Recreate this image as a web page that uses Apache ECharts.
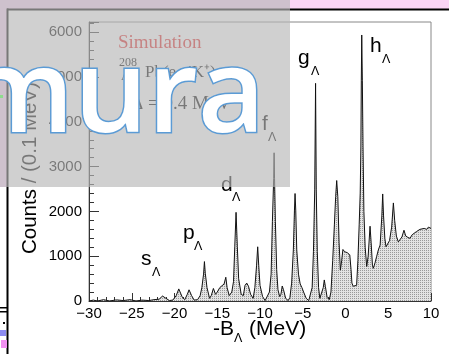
<!DOCTYPE html>
<html><head><meta charset="utf-8">
<script src="https://cdn.jsdelivr.net/npm/echarts@6/dist/echarts.min.js"></script>
<style>html,body{margin:0;padding:0;background:#fff}#c{width:449px;height:354px}</style>
</head><body><div id="c"></div>
<script>
// -B_Lambda (MeV) sample positions and counts per 0.1 MeV
var energies = [-30,-29.5,-29,-28.3,-27.6,-26.8,-26,-25.2,-24.5,-23.8,-23,-22.4,-21.8,-21.4,-21,-20.6,-20.2,-19.8,-19.5,-19.3,-19.1,-18.8,-18.5,-18.3,-18,-17.7,-17.3,-17,-16.8,-16.6,-16.5,-16.4,-16.2,-15.9,-15.7,-15.45,-15.2,-15,-14.7,-14.5,-14.2,-14,-13.85,-13.6,-13.3,-13.1,-12.95,-12.8,-12.65,-12.5,-12.2,-11.95,-11.75,-11.55,-11.35,-11.1,-10.8,-10.6,-10.4,-10.27,-10.15,-10,-9.7,-9.4,-9.2,-8.9,-8.7,-8.55,-8.4,-8.35,-8.3,-8.2,-8.05,-7.9,-7.7,-7.55,-7.4,-7.25,-7,-6.7,-6.5,-6.3,-6.1,-5.97,-5.9,-5.82,-5.7,-5.5,-5.3,-5.1,-4.9,-4.6,-4.3,-4.1,-3.9,-3.75,-3.6,-3.5,-3.42,-3.3,-3.15,-3,-2.8,-2.6,-2.48,-2.35,-2.15,-1.9,-1.7,-1.5,-1.3,-1.15,-1.03,-0.9,-0.75,-0.6,-0.45,-0.3,-0.1,0.2,0.5,0.65,0.75,0.9,1.1,1.3,1.45,1.6,1.72,1.8,1.85,1.9,1.97,2.05,2.15,2.3,2.48,2.65,2.87,3,3.15,3.25,3.45,3.65,3.84,4.05,4.25,4.35,4.45,4.6,4.74,4.95,5.15,5.4,5.6,5.75,5.95,6.18,6.4,6.6,6.84,7.05,7.3,7.54,7.8,8,8.3,8.5,8.71,8.9,9.2,9.5,9.7,9.88,10];
var counts = [0,20,0,30,0,25,10,30,0,20,10,30,40,110,60,10,20,120,270,230,90,30,150,250,120,20,30,120,300,600,880,620,300,60,120,280,150,200,300,320,380,530,300,120,200,430,1210,1980,1210,500,150,120,350,400,330,150,60,300,800,1210,800,350,100,10,20,200,600,1770,2740,3310,2740,1770,700,250,100,150,335,250,60,10,80,400,1140,2030,2400,2030,1140,600,380,300,200,60,10,40,300,1100,2480,4860,2480,1100,300,60,50,300,470,320,80,30,200,900,1700,2330,2690,2330,1300,690,900,1150,1100,1080,1030,700,400,330,320,350,900,1700,2410,3440,4930,5940,4930,3440,2000,1200,770,1000,1670,1300,800,730,850,1000,1140,1250,1900,2390,1900,1400,1210,1250,1350,1650,2190,1800,1450,1320,1360,1430,1580,1450,1420,1400,1480,1450,1550,1530,1600,1570,1620,1600,1650,1660,1620];
var xTicks = [-30,-25,-20,-15,-10,-5,0,5,10];
var yTicks = [0,1000,2000,3000,4000,5000,6000];
var peakNames = ['s','p','d','f','g','h'];

// annotation placement (pixels): letter left/baseline, subscript offsets
var peakPlace = [
  {x:141, y:267, dx:11, dy:10}, {x:183, y:241, dx:11, dy:10}, {x:221, y:193, dx:11, dy:9},
  {x:262, y:132, dx:6, dy:10},  {x:298, y:66, dx:13, dy:10},  {x:370, y:54, dx:12, dy:10}
];

var chart = echarts.init(document.getElementById('c'), null, {renderer:'canvas'});
var pc = document.createElement('canvas'); pc.width = 2; pc.height = 2;
var g = pc.getContext('2d');
g.fillStyle = '#e3e3e3'; g.fillRect(0,0,2,2);
g.fillStyle = '#999'; g.fillRect(0,0,1,1);

var data = energies.map(function(e,i){ return [e, counts[i]]; });
var sans = 'Liberation Sans, Arial, sans-serif';
var serif = 'Liberation Serif, Times New Roman, serif';

// text helper: place by baseline using middle alignment (k = middle offset in em)
function txt(s, x, base, size, family, fill, z, k, extra){
  var st = {text:s, x:x, y:base - k*size, font:size+'px '+family, fill:fill, align:'left', verticalAlign:'middle'};
  if (extra) for (var key in extra) st[key] = extra[key];
  return {type:'text', z:z, style:st};
}

var graphics = [
  {type:'rect', z:-5, shape:{x:0,y:0,width:449,height:9}, style:{fill:'#fad4f5'}},
  {type:'rect', z:-5, shape:{x:0,y:0,width:7,height:187}, style:{fill:'#fad4f5'}},
  {type:'rect', z:1, shape:{x:7,y:8.5,width:442,height:2}, style:{fill:'#000'}},
  {type:'rect', z:1, shape:{x:6.5,y:8.5,width:2,height:346}, style:{fill:'#000'}},
  {type:'rect', z:1, shape:{x:0,y:307,width:7,height:1.5}, style:{fill:'#000'}},
  {type:'rect', z:1, shape:{x:0,y:311,width:7,height:1.5}, style:{fill:'#000'}},
  {type:'rect', z:1, shape:{x:3,y:322,width:2,height:2}, style:{fill:'#000'}},
  {type:'rect', z:1, shape:{x:0,y:330,width:6,height:6}, style:{fill:'#8c8cf0'}},
  {type:'rect', z:1, shape:{x:1,y:340,width:6,height:8}, style:{fill:'#f090f0'}},
  {type:'text', z:5, style:{text:'Counts / (0.1 MeV)', x:0, y:0, font:'20.5px '+sans, fill:'#000', align:'center', verticalAlign:'middle'}, x:30, y:168, rotation:Math.PI/2},
  txt('-B', 213, 337, 21, sans, '#000', 5, 0.35),
  txt('Λ', 234, 343, 12.5, sans, '#000', 5, 0.35),
  txt('(MeV)', 249, 337, 21, sans, '#000', 5, 0.35),
  txt('Simulation', 118, 49, 19, serif, '#e02020', 5, 0.34),
  txt('208', 119, 67, 12, serif, '#000', 5, 0.34),
  txt('Λ', 121, 81, 12, serif, '#000', 5, 0.34),
  txt('Pb(e,e′K⁺)', 145, 78, 17, serif, '#000', 5, 0.34),
  txt('Δ = 0.4 MeV', 131, 110, 19, serif, '#000', 5, 0.34),
  {type:'rect', z:100, shape:{x:0,y:0,width:290,height:187}, style:{fill:'rgba(183,183,183,0.655)'}},
  {type:'rect', z:101, shape:{x:0,y:95,width:3,height:3}, style:{fill:'#8ddc8d'}},
  {type:'text', z:110, style:{text:'mura', x:265, y:144 - 0.39*116, font:'600 116px "Open Sans", sans-serif', fill:'#fff', stroke:'#5b9bd5', lineWidth:3, align:'right', verticalAlign:'middle', shadowColor:'rgba(0,0,0,0.35)', shadowBlur:4, shadowOffsetX:2, shadowOffsetY:2}}
];
peakNames.forEach(function(n, i){
  var p = peakPlace[i];
  graphics.push(txt(n, p.x, p.y, 21, sans, '#000', 5, 0.35));
  graphics.push(txt('Λ', p.x + p.dx, p.y + p.dy, 12.5, sans, '#000', 5, 0.35));
});

chart.setOption({
  animation:false,
  backgroundColor:'#fff',
  grid:{left:89, right:18, top:22, bottom:53, show:true, borderColor:'#888', borderWidth:1, backgroundColor:'#fff'},
  xAxis:{type:'value', min:xTicks[0], max:xTicks[xTicks.length-1], interval:5,
    axisLine:{show:true, onZero:false, lineStyle:{color:'#333', width:1}},
    axisTick:{show:true, inside:true, length:8, lineStyle:{color:'#333'}},
    minorTick:{show:true, splitNumber:5, length:4, lineStyle:{color:'#333'}},
    splitLine:{show:false},
    axisLabel:{margin:5, fontSize:15, fontFamily:sans, color:'#000',
      formatter:function(v){ return xTicks.indexOf(v)>=0 ? String(v).replace('-','\u2212') : ''; }}
  },
  yAxis:{type:'value', min:0, max:6230, interval:1000,
    axisLine:{show:true, onZero:false, lineStyle:{color:'#333', width:1}},
    axisTick:{show:true, inside:true, length:10, lineStyle:{color:'#333'}},
    minorTick:{show:true, splitNumber:5, length:5, lineStyle:{color:'#333'}},
    splitLine:{show:false},
    axisLabel:{margin:7, fontSize:15, fontFamily:sans, color:'#000',
      formatter:function(v){ return yTicks.indexOf(v)>=0 ? String(v) : ''; }}
  },
  series:[{type:'line', data:data, symbol:'none', clip:true,
    lineStyle:{color:'#111', width:1},
    areaStyle:{color:{image:pc, repeat:'repeat'}, opacity:1}
  }],
  graphic:graphics
});
</script></body></html>
